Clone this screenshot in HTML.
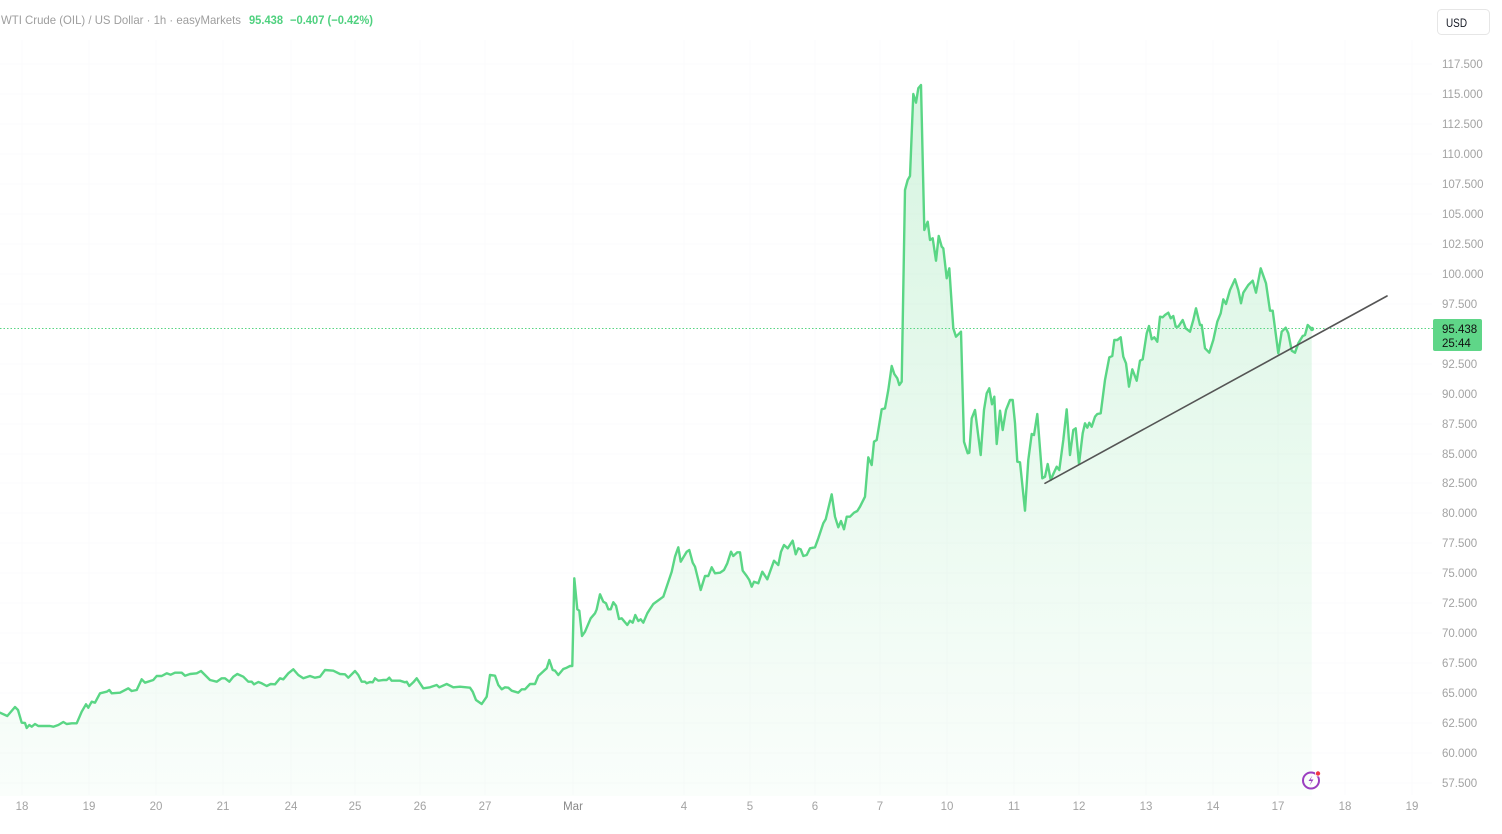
<!DOCTYPE html>
<html><head><meta charset="utf-8"><style>
html,body{margin:0;padding:0;background:#fff;}
svg{display:block;}
text{font-family:"Liberation Sans",sans-serif;}
</style></head><body>
<svg width="1502" height="834" viewBox="0 0 1502 834" xmlns="http://www.w3.org/2000/svg">
<defs>
<linearGradient id="fg" x1="0" y1="85" x2="0" y2="800" gradientUnits="userSpaceOnUse">
<stop offset="0" stop-color="#57d582" stop-opacity="0.24"/>
<stop offset="1" stop-color="#57d582" stop-opacity="0.03"/>
</linearGradient>
</defs>
<rect width="1502" height="834" fill="#fff"/>
<g stroke="#fbfbfc" stroke-width="1">
<line x1="0" y1="64" x2="1432" y2="64"/><line x1="0" y1="94" x2="1432" y2="94"/><line x1="0" y1="124" x2="1432" y2="124"/><line x1="0" y1="154" x2="1432" y2="154"/><line x1="0" y1="184" x2="1432" y2="184"/><line x1="0" y1="214" x2="1432" y2="214"/><line x1="0" y1="244" x2="1432" y2="244"/><line x1="0" y1="274" x2="1432" y2="274"/><line x1="0" y1="304" x2="1432" y2="304"/><line x1="0" y1="364" x2="1432" y2="364"/><line x1="0" y1="394" x2="1432" y2="394"/><line x1="0" y1="424" x2="1432" y2="424"/><line x1="0" y1="454" x2="1432" y2="454"/><line x1="0" y1="483" x2="1432" y2="483"/><line x1="0" y1="513" x2="1432" y2="513"/><line x1="0" y1="543" x2="1432" y2="543"/><line x1="0" y1="573" x2="1432" y2="573"/><line x1="0" y1="603" x2="1432" y2="603"/><line x1="0" y1="633" x2="1432" y2="633"/><line x1="0" y1="663" x2="1432" y2="663"/><line x1="0" y1="693" x2="1432" y2="693"/><line x1="0" y1="723" x2="1432" y2="723"/><line x1="0" y1="753" x2="1432" y2="753"/><line x1="0" y1="783" x2="1432" y2="783"/>
<line x1="22" y1="40" x2="22" y2="795"/><line x1="89" y1="40" x2="89" y2="795"/><line x1="156" y1="40" x2="156" y2="795"/><line x1="223" y1="40" x2="223" y2="795"/><line x1="291" y1="40" x2="291" y2="795"/><line x1="355" y1="40" x2="355" y2="795"/><line x1="420" y1="40" x2="420" y2="795"/><line x1="485" y1="40" x2="485" y2="795"/><line x1="573" y1="40" x2="573" y2="795"/><line x1="684" y1="40" x2="684" y2="795"/><line x1="750" y1="40" x2="750" y2="795"/><line x1="815" y1="40" x2="815" y2="795"/><line x1="880" y1="40" x2="880" y2="795"/><line x1="947" y1="40" x2="947" y2="795"/><line x1="1014" y1="40" x2="1014" y2="795"/><line x1="1079" y1="40" x2="1079" y2="795"/><line x1="1146" y1="40" x2="1146" y2="795"/><line x1="1213" y1="40" x2="1213" y2="795"/><line x1="1278" y1="40" x2="1278" y2="795"/><line x1="1345" y1="40" x2="1345" y2="795"/><line x1="1412" y1="40" x2="1412" y2="795"/>
</g>
<path fill="url(#fg)" stroke="none" d="M0,712.7 L7.3,716 15,707 18,710 21.7,722.7 25,723 26.7,728 29.3,725 31.7,726.7 35,724 38.3,726 50,726 53.3,726.7 58.3,725 63.3,722 66.7,724 71.7,723.3 76.7,723.3 81.7,711.7 86,704.3 88.3,707.7 91.7,701.7 95,702.7 100,693.3 106.7,691.7 109.3,690 111.7,693.3 120,692.7 128.3,688.3 131.7,691 136.7,690 141.7,679.3 145,682.7 153.3,680 156.7,676 161.7,676 166.7,673.3 170.7,674.7 175,672.7 181.7,672.7 185,675.7 190,674 196.7,673.3 201,671 205,675 210,680 216.7,681.7 221.7,678.3 225,678.3 229.3,681.7 233.3,676.7 237.3,674 243.3,676.7 248.3,681.7 251.7,681.7 254,684.3 258.3,682 261.7,683.3 266.7,686 270.7,684 275,684.3 280,678.3 283.3,679.3 288.3,673.3 293.3,669.3 298.3,675 303.3,678.3 310,676 315,677.7 320,676.7 325,670 333.3,670.7 340,674 345,674.3 348.3,677.7 355,671 358.3,675 361.7,681.7 365,681.7 366.7,683.3 370,682 372.7,682.3 375,678.3 378.3,680.7 383.3,680 386.7,680 389.3,677.7 391.7,680.7 400,680.7 405,682.3 406.7,681.7 409.3,686 413.3,682.3 416.7,678.3 420,683.3 423.3,688.3 430,687.3 436.7,685 439.3,687.3 446.7,684 453.3,687.3 460,686.7 470,687.7 472.7,691.7 476,700 481.7,704 486.7,696.7 490,675 495,675.7 498.3,685 501.7,689.3 505,687.3 508.3,687.7 511.7,690.7 518.3,692.7 521.7,689.3 525,689.3 530,684 535,684 538.3,676 544,670.7 546.7,668.3 549.3,660 552.7,670 555,670.7 558.3,675 563.3,669 566.7,667.7 570,666 572.3,666 574.3,578.3 577.3,609.3 579.3,610.7 582,636 585,631.7 590.7,618.3 595,613.3 596.7,609.3 600,594.3 603.3,601.7 606,603.3 608.3,609.3 610.7,609.3 613.3,602.3 616,605.7 619,619 621.7,618.3 627.3,625 630,620.7 632.7,622.7 635.3,615 638.3,621 640.7,619.3 643.3,622.7 647.3,613.3 650,609 653.3,604 663.3,596.7 671.7,571.7 675,556.7 678.3,547.3 680.7,561.7 686.7,551.7 689.3,550 692.7,562.7 695,566.7 698.3,580 700.7,590 705,576 708.3,576 711.7,567.3 715,573.3 720,572.7 724,570 727.3,563.3 731,551.7 733.3,556 737.3,552.3 740,552.3 742.7,570.7 746.7,576 749.3,580 751.7,586.7 754,581.7 758.3,583.3 762.3,571.7 767.3,579.3 774,560.7 778.3,565 781,551.7 784,545 787.7,548.3 792.7,540.7 795.7,554.3 798.3,548.3 800.7,549.3 803.3,556 806.7,555 810,548.3 815,547.3 818.3,538.3 823.3,523.3 825.7,519.3 831.7,494.3 835,516.7 838.3,527.3 841,521 844,529.3 846.7,516.7 850,516.7 854,512.7 857.3,511 860,506.7 865,496.7 868.3,457.3 871.7,465 874,441.7 876.7,440 881.7,409.3 885,408.3 888.3,390 891.7,366 894.3,374 897.3,378.3 899.3,385 901.7,381.7 905,190 907.7,180 910,176 913.3,94 916,102.7 918.3,88.3 921,85 924.3,230 927.7,221.7 930,240 932.7,238.3 936,260.7 938.7,236 941.7,246.7 943.3,248.3 946.7,278.3 949.3,268.3 953.3,328.3 956,336.7 961,331.7 964,441.7 967.7,453.3 969.3,452.7 971.7,418.3 975,410 980.7,455 984,410 986.7,393.3 989.3,388.3 992,404.3 994.3,396.7 996.7,444 1000,410.7 1002.7,430 1006,410 1010,400 1012.7,400 1015,423.3 1017.3,461.7 1020,462.3 1025,510.7 1028.3,460 1031.7,434 1034,435 1037.3,414 1042.3,478.3 1045,476.7 1047.7,464 1050.7,480 1053.3,474 1056.7,466.7 1059.3,470 1063.3,440 1066.7,409.3 1070,455 1073.3,430 1075.7,428.3 1079,464 1082.7,433.3 1085,423.3 1087.3,427.7 1089.3,422.7 1091.7,426.7 1095,416.7 1097.3,414 1100.7,413.3 1105,380 1109.3,357.3 1112.3,356 1114.3,340 1117.3,340 1120.7,337.3 1123.3,356.7 1126,363.3 1129,386.7 1132.3,369.3 1136.7,380.7 1140,360.7 1142.7,359.3 1146.7,333.3 1149,326 1151.7,339.3 1154.3,337.3 1157.3,341.7 1160,316.7 1162.7,317.3 1165,315 1168.3,312.7 1170.7,318.3 1173.3,316 1175.7,326.7 1178.3,326.7 1182.7,320 1185.7,328.3 1190,331.7 1193.3,320 1196,308.3 1200,325 1201.7,325 1205,348.3 1209.3,352.7 1213.3,340 1217.3,321.7 1220.7,313.3 1223.3,299.3 1226,304 1230,290 1235,279.3 1238.3,290 1241,303.3 1243.3,292.7 1248.3,285 1252.7,280.7 1256,292.7 1260.7,268.3 1266,283.3 1270,310.7 1272.7,310.7 1278.3,353.3 1281.7,331.7 1285.7,327.7 1288.3,333.3 1291.7,350.7 1295,352.7 1298.3,343.3 1302.7,336 1305,335 1307.7,325 1311.7,329 L1311.7,796 L0,796 Z"/>
<line x1="0" y1="328.5" x2="1433" y2="328.5" stroke="#57d582" stroke-width="1" stroke-dasharray="1.5,2"/>
<path fill="none" stroke="#5ad685" stroke-width="2.4" stroke-linejoin="round" stroke-linecap="round" d="M0,712.7 L7.3,716 15,707 18,710 21.7,722.7 25,723 26.7,728 29.3,725 31.7,726.7 35,724 38.3,726 50,726 53.3,726.7 58.3,725 63.3,722 66.7,724 71.7,723.3 76.7,723.3 81.7,711.7 86,704.3 88.3,707.7 91.7,701.7 95,702.7 100,693.3 106.7,691.7 109.3,690 111.7,693.3 120,692.7 128.3,688.3 131.7,691 136.7,690 141.7,679.3 145,682.7 153.3,680 156.7,676 161.7,676 166.7,673.3 170.7,674.7 175,672.7 181.7,672.7 185,675.7 190,674 196.7,673.3 201,671 205,675 210,680 216.7,681.7 221.7,678.3 225,678.3 229.3,681.7 233.3,676.7 237.3,674 243.3,676.7 248.3,681.7 251.7,681.7 254,684.3 258.3,682 261.7,683.3 266.7,686 270.7,684 275,684.3 280,678.3 283.3,679.3 288.3,673.3 293.3,669.3 298.3,675 303.3,678.3 310,676 315,677.7 320,676.7 325,670 333.3,670.7 340,674 345,674.3 348.3,677.7 355,671 358.3,675 361.7,681.7 365,681.7 366.7,683.3 370,682 372.7,682.3 375,678.3 378.3,680.7 383.3,680 386.7,680 389.3,677.7 391.7,680.7 400,680.7 405,682.3 406.7,681.7 409.3,686 413.3,682.3 416.7,678.3 420,683.3 423.3,688.3 430,687.3 436.7,685 439.3,687.3 446.7,684 453.3,687.3 460,686.7 470,687.7 472.7,691.7 476,700 481.7,704 486.7,696.7 490,675 495,675.7 498.3,685 501.7,689.3 505,687.3 508.3,687.7 511.7,690.7 518.3,692.7 521.7,689.3 525,689.3 530,684 535,684 538.3,676 544,670.7 546.7,668.3 549.3,660 552.7,670 555,670.7 558.3,675 563.3,669 566.7,667.7 570,666 572.3,666 574.3,578.3 577.3,609.3 579.3,610.7 582,636 585,631.7 590.7,618.3 595,613.3 596.7,609.3 600,594.3 603.3,601.7 606,603.3 608.3,609.3 610.7,609.3 613.3,602.3 616,605.7 619,619 621.7,618.3 627.3,625 630,620.7 632.7,622.7 635.3,615 638.3,621 640.7,619.3 643.3,622.7 647.3,613.3 650,609 653.3,604 663.3,596.7 671.7,571.7 675,556.7 678.3,547.3 680.7,561.7 686.7,551.7 689.3,550 692.7,562.7 695,566.7 698.3,580 700.7,590 705,576 708.3,576 711.7,567.3 715,573.3 720,572.7 724,570 727.3,563.3 731,551.7 733.3,556 737.3,552.3 740,552.3 742.7,570.7 746.7,576 749.3,580 751.7,586.7 754,581.7 758.3,583.3 762.3,571.7 767.3,579.3 774,560.7 778.3,565 781,551.7 784,545 787.7,548.3 792.7,540.7 795.7,554.3 798.3,548.3 800.7,549.3 803.3,556 806.7,555 810,548.3 815,547.3 818.3,538.3 823.3,523.3 825.7,519.3 831.7,494.3 835,516.7 838.3,527.3 841,521 844,529.3 846.7,516.7 850,516.7 854,512.7 857.3,511 860,506.7 865,496.7 868.3,457.3 871.7,465 874,441.7 876.7,440 881.7,409.3 885,408.3 888.3,390 891.7,366 894.3,374 897.3,378.3 899.3,385 901.7,381.7 905,190 907.7,180 910,176 913.3,94 916,102.7 918.3,88.3 921,85 924.3,230 927.7,221.7 930,240 932.7,238.3 936,260.7 938.7,236 941.7,246.7 943.3,248.3 946.7,278.3 949.3,268.3 953.3,328.3 956,336.7 961,331.7 964,441.7 967.7,453.3 969.3,452.7 971.7,418.3 975,410 980.7,455 984,410 986.7,393.3 989.3,388.3 992,404.3 994.3,396.7 996.7,444 1000,410.7 1002.7,430 1006,410 1010,400 1012.7,400 1015,423.3 1017.3,461.7 1020,462.3 1025,510.7 1028.3,460 1031.7,434 1034,435 1037.3,414 1042.3,478.3 1045,476.7 1047.7,464 1050.7,480 1053.3,474 1056.7,466.7 1059.3,470 1063.3,440 1066.7,409.3 1070,455 1073.3,430 1075.7,428.3 1079,464 1082.7,433.3 1085,423.3 1087.3,427.7 1089.3,422.7 1091.7,426.7 1095,416.7 1097.3,414 1100.7,413.3 1105,380 1109.3,357.3 1112.3,356 1114.3,340 1117.3,340 1120.7,337.3 1123.3,356.7 1126,363.3 1129,386.7 1132.3,369.3 1136.7,380.7 1140,360.7 1142.7,359.3 1146.7,333.3 1149,326 1151.7,339.3 1154.3,337.3 1157.3,341.7 1160,316.7 1162.7,317.3 1165,315 1168.3,312.7 1170.7,318.3 1173.3,316 1175.7,326.7 1178.3,326.7 1182.7,320 1185.7,328.3 1190,331.7 1193.3,320 1196,308.3 1200,325 1201.7,325 1205,348.3 1209.3,352.7 1213.3,340 1217.3,321.7 1220.7,313.3 1223.3,299.3 1226,304 1230,290 1235,279.3 1238.3,290 1241,303.3 1243.3,292.7 1248.3,285 1252.7,280.7 1256,292.7 1260.7,268.3 1266,283.3 1270,310.7 1272.7,310.7 1278.3,353.3 1281.7,331.7 1285.7,327.7 1288.3,333.3 1291.7,350.7 1295,352.7 1298.3,343.3 1302.7,336 1305,335 1307.7,325 1311.7,329"/>
<circle cx="1312" cy="329" r="2.2" fill="#5ad685"/>
<line x1="1045" y1="483.3" x2="1387" y2="296" stroke="#555" stroke-width="1.6" stroke-linecap="round"/>
<text x="1" y="24" font-size="12" fill="#9e9e9e" textLength="240" lengthAdjust="spacingAndGlyphs">WTI Crude (OIL) / US Dollar · 1h · easyMarkets</text>
<text x="249" y="24" font-size="12" font-weight="bold" fill="#4fd17f" textLength="34" lengthAdjust="spacingAndGlyphs">95.438</text>
<text x="290" y="24" font-size="12" font-weight="bold" fill="#4fd17f" textLength="83" lengthAdjust="spacingAndGlyphs">−0.407 (−0.42%)</text>
<rect x="1437.5" y="9.5" width="52" height="25" rx="4" fill="#fff" stroke="#e6e6e6"/>
<text x="1446" y="27" font-size="12" fill="#131722" textLength="21" lengthAdjust="spacingAndGlyphs">USD</text>
<g font-size="11.5" fill="#a3a3a3">
<text x="1442" y="68">117.500</text><text x="1442" y="98">115.000</text><text x="1442" y="128">112.500</text><text x="1442" y="158">110.000</text><text x="1442" y="188">107.500</text><text x="1442" y="218">105.000</text><text x="1442" y="248">102.500</text><text x="1442" y="278">100.000</text><text x="1442" y="308">97.500</text><text x="1442" y="368">92.500</text><text x="1442" y="398">90.000</text><text x="1442" y="428">87.500</text><text x="1442" y="458">85.000</text><text x="1442" y="487">82.500</text><text x="1442" y="517">80.000</text><text x="1442" y="547">77.500</text><text x="1442" y="577">75.000</text><text x="1442" y="607">72.500</text><text x="1442" y="637">70.000</text><text x="1442" y="667">67.500</text><text x="1442" y="697">65.000</text><text x="1442" y="727">62.500</text><text x="1442" y="757">60.000</text><text x="1442" y="787">57.500</text>
</g>
<rect x="1433" y="319" width="49" height="32" rx="2" fill="#5fd688"/>
<text x="1442" y="333" font-size="11.5" fill="#111">95.438</text>
<text x="1442" y="347" font-size="11.5" fill="#111">25:44</text>
<g font-size="11.5" fill="#a3a3a3" text-anchor="middle">
<text x="22" y="810">18</text><text x="89" y="810">19</text><text x="156" y="810">20</text><text x="223" y="810">21</text><text x="291" y="810">24</text><text x="355" y="810">25</text><text x="420" y="810">26</text><text x="485" y="810">27</text><text x="573" y="810" fill="#888">Mar</text><text x="684" y="810">4</text><text x="750" y="810">5</text><text x="815" y="810">6</text><text x="880" y="810">7</text><text x="947" y="810">10</text><text x="1014" y="810">11</text><text x="1079" y="810">12</text><text x="1146" y="810">13</text><text x="1213" y="810">14</text><text x="1278" y="810">17</text><text x="1345" y="810">18</text><text x="1412" y="810">19</text>
</g>
<circle cx="1311" cy="780.5" r="8" fill="none" stroke="#9b3fc0" stroke-width="2"/>
<path d="M1312.5,775.5 L1308.5,781 L1311.5,781 L1309.5,785.5 L1313.5,779.5 L1310.5,779.5 Z" fill="#9b3fc0"/>
<circle cx="1318" cy="773.5" r="2.6" fill="#f23645" stroke="#fff" stroke-width="0.8"/>
</svg>
</body></html>
